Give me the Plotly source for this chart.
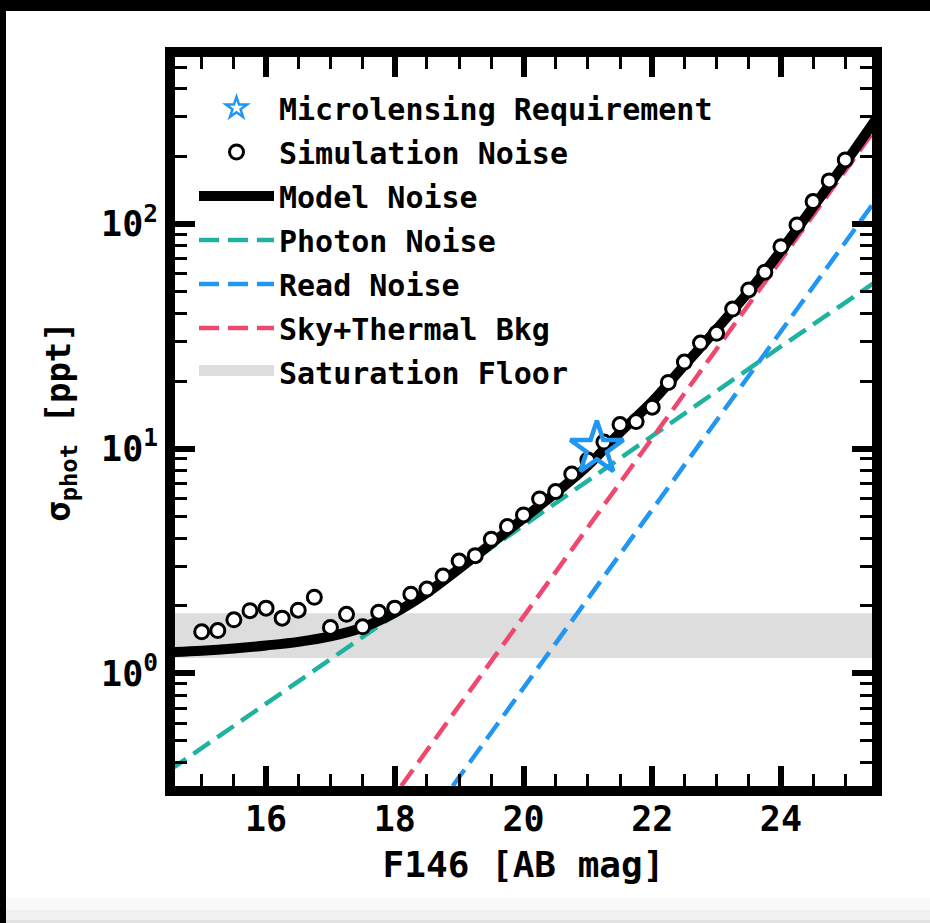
import plotly.graph_objects as go

# ---------------- data ----------------
sim_mag = [15.00, 15.25, 15.50, 15.75, 16.00, 16.25, 16.50, 16.75, 17.00, 17.25,
           17.50, 17.75, 18.00, 18.25, 18.50, 18.75, 19.00, 19.25, 19.50, 19.75,
           20.00, 20.25, 20.50, 20.75, 21.00, 21.25, 21.50, 21.75, 22.00, 22.25,
           22.50, 22.75, 23.00, 23.25, 23.50, 23.75, 24.00, 24.25, 24.50, 24.75,
           25.00]
sim_noise = [1.53, 1.55, 1.73, 1.90, 1.95, 1.76, 1.91, 2.18, 1.60, 1.83,
             1.61, 1.87, 1.95, 2.25, 2.37, 2.71, 3.16, 3.34, 3.95, 4.50,
             5.07, 5.97, 6.44, 7.71, 8.90, 10.7, 12.8, 13.2, 15.3, 19.7,
             24.3, 29.5, 32.6, 41.8, 50.9, 61.0, 79.3, 99.1, 125.9, 155.6,
             192.8]

model_mag = [14.5, 15.0, 15.5, 16.0, 16.5, 17.0, 17.5, 18.0, 18.5, 19.0, 19.5,
             20.0, 20.5, 21.0, 21.5, 22.0, 22.5, 23.0, 23.5, 24.0, 24.5, 25.0, 25.5]
model_noise = [1.24, 1.26, 1.29, 1.33, 1.38, 1.46, 1.60, 1.86, 2.28, 2.92, 3.78,
               4.90, 6.35, 8.40, 11.8, 16.2, 23.5, 34.0, 50.0, 76.0, 119.0, 187.0, 300.0]

photon_mag = [14.5, 16.0, 18.0, 20.0, 22.0, 24.0, 25.5]
photon_noise = [0.37, 0.73, 1.82, 4.55, 11.4, 28.5, 56.0]

read_mag = [18.9, 20.0, 22.0, 24.0, 25.5]
read_noise = [0.315, 0.86, 5.35, 33.3, 131.0]

sky_mag = [18.1, 20.0, 22.0, 24.0, 25.5]
sky_noise = [0.315, 1.79, 11.1, 69.3, 273.0]

floor_low, floor_high = 1.17, 1.85
floor_mag = [14.0, 26.0]

req_mag = [21.14]
req_noise = [10.0]

y_tickvals = [1, 10, 100]
y_ticktext = ["10<sup>0</sup>", "10<sup>1</sup>", "10<sup>2</sup>"]
x_tickvals = [16, 18, 20, 22, 24]
x_ticktext = ["16", "18", "20", "22", "24"]

# ---------------- styling ----------------
TEAL = "#20B2A0"
BLUE = "#2196F3"
PINK = "#F0476E"
STARBLUE = "#2196F3"
GREY = "#DDDDDD"
FONT = "DejaVu Sans Mono"
DASH = "20px,9px"

fig = go.Figure()

# saturation floor band (drawn), legend entry supplied by a proxy below
fig.add_trace(go.Scatter(
    x=[floor_mag[0], floor_mag[1], floor_mag[1], floor_mag[0], floor_mag[0]],
    y=[floor_low, floor_low, floor_high, floor_high, floor_low],
    fill="toself", fillcolor=GREY, mode="lines",
    line=dict(width=0, color=GREY), showlegend=False, hoverinfo="skip"))

fig.add_trace(go.Scatter(x=photon_mag, y=photon_noise, mode="lines",
                         line=dict(color=TEAL, width=4.5, dash=DASH),
                         name="Photon Noise", legendrank=4, legendgroup="g4"))
fig.add_trace(go.Scatter(x=read_mag, y=read_noise, mode="lines",
                         line=dict(color=BLUE, width=4.5, dash=DASH),
                         name="Read Noise", legendrank=5, legendgroup="g5"))
fig.add_trace(go.Scatter(x=sky_mag, y=sky_noise, mode="lines",
                         line=dict(color=PINK, width=4.5, dash=DASH),
                         name="Sky+Thermal Bkg", legendrank=6, legendgroup="g6"))
fig.add_trace(go.Scatter(x=model_mag, y=model_noise, mode="lines",
                         line=dict(color="black", width=10, shape="spline"),
                         name="Model Noise", legendrank=3, legendgroup="g3"))
fig.add_trace(go.Scatter(x=sim_mag, y=sim_noise, mode="markers",
                         marker=dict(symbol="circle", size=14, color="white",
                                     line=dict(color="black", width=3)),
                         name="Simulation Noise", legendrank=2, legendgroup="g2"))
fig.add_trace(go.Scatter(x=req_mag, y=req_noise, mode="markers",
                         marker=dict(symbol="star-open", size=40, color=STARBLUE,
                                     line=dict(color=STARBLUE, width=4.5)),
                         showlegend=False, legendgroup="g1"))

# legend-only handles (no data drawn)
fig.add_trace(go.Scatter(x=[None], y=[None], mode="markers",
                         marker=dict(symbol="star-open", size=16, color=STARBLUE,
                                     line=dict(color=STARBLUE, width=2.5)),
                         name="Microlensing Requirement", legendrank=1, legendgroup="g1"))
fig.add_trace(go.Scatter(x=[None], y=[None], mode="lines", fill="toself",
                         fillcolor=GREY, line=dict(color=GREY, width=10),
                         name="Saturation Floor", legendrank=7, legendgroup="g7"))

# plot-area geometry (pixels)
L, R, T, B = 175, 872, 57, 786
W, H = 930, 923
pw, ph = R - L, B - T

def px(xp):
    return (xp - L) / pw

def py(yp):
    return (B - yp) / ph

# frame decorations of the screenshot (black strips, grey bottom strip)
shapes = [
    dict(type="rect", xref="paper", yref="paper", x0=px(-5), x1=px(6), y0=py(-5), y1=py(H + 5),
         fillcolor="black", line=dict(width=0), layer="below"),
    dict(type="rect", xref="paper", yref="paper", x0=px(-5), x1=px(W + 5), y0=py(-5), y1=py(11),
         fillcolor="black", line=dict(width=0), layer="below"),
    dict(type="rect", xref="paper", yref="paper", x0=px(6), x1=px(W + 5), y0=py(898), y1=py(910),
         fillcolor="#F9F9F9", line=dict(width=0), layer="below"),
    dict(type="rect", xref="paper", yref="paper", x0=px(6), x1=px(W + 5), y0=py(910), y1=py(920),
         fillcolor="#F1F1F1", line=dict(width=0), layer="below"),
    dict(type="rect", xref="paper", yref="paper", x0=px(6), x1=px(W + 5), y0=py(920), y1=py(H + 5),
         fillcolor="#E2E2E2", line=dict(width=0), layer="below"),
]

axis_common = dict(
    showline=True, linewidth=10, linecolor="black", mirror="allticks",
    ticks="inside", ticklen=20, tickwidth=6, tickcolor="black",
    showgrid=False, zeroline=False,
    tickfont=dict(family=FONT, size=35, color="black", weight="bold"),
)

fig.update_layout(
    width=W, height=H,
    margin=dict(l=L, r=W - R, t=T, b=H - B, pad=0, autoexpand=False),
    paper_bgcolor="white", plot_bgcolor="white",
    shapes=shapes,
    showlegend=True,
    legend=dict(x=px(194), y=py(82), xanchor="left", yanchor="top",
                bgcolor="rgba(0,0,0,0)", borderwidth=0,
                font=dict(family=FONT, size=30, color="black", weight="bold"),
                itemwidth=75, tracegroupgap=2, traceorder="grouped", itemsizing="trace"),
    xaxis=dict(
        axis_common, type="linear", range=[14.585, 25.415],
        tickmode="array", tickvals=x_tickvals, ticktext=x_ticktext,
        ticklabelstandoff=-7,
        minor=dict(ticks="inside", ticklen=12, tickwidth=3, tickcolor="black",
                   dtick=0.5, showgrid=False),
        title=dict(text="F146 [AB mag]", standoff=18,
                   font=dict(family=FONT, size=36, color="black", weight="bold")),
        automargin=False,
    ),
    yaxis=dict(
        axis_common, type="log", range=[-0.5018, 2.7435],
        tickmode="array", tickvals=y_tickvals, ticktext=y_ticktext,
        minor=dict(ticks="inside", ticklen=12, tickwidth=3, tickcolor="black",
                   tickmode="array",
                   tickvals=[0.3, 0.4, 0.5, 0.6, 0.7, 0.8, 0.9,
                             2, 3, 4, 5, 6, 7, 8, 9,
                             20, 30, 40, 50, 60, 70, 80, 90,
                             200, 300, 400, 500],
                   showgrid=False),
        title=dict(text="σ<sub>phot</sub> [ppt]", standoff=24,
                   font=dict(family=FONT, size=34, color="black", weight="bold")),
        automargin=False,
    ),
)

fig.write_html("out.html")
